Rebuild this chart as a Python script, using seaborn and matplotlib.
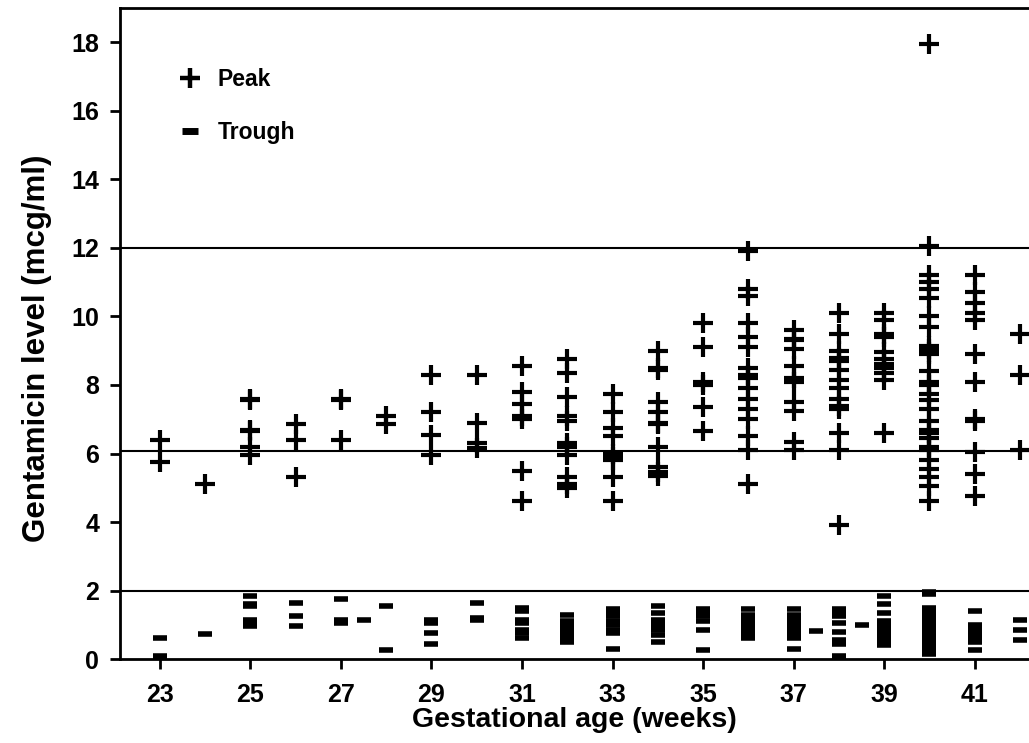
import pandas as pd
import seaborn as sns
import matplotlib.pyplot as plt
from matplotlib.lines import Line2D

# gestational age (weeks) of each column of peak levels
peak_weeks = [23, 24, 25, 26, 27, 28, 29, 30, 31, 32, 33, 34, 35, 36, 37, 38, 39, 40, 41, 42]
peak_levels = [
    [6.4, 5.75],
    [5.1],
    [7.6, 7.55, 6.7, 6.65, 6.2, 5.95],
    [6.85, 6.4, 5.3],
    [7.6, 7.55, 6.4],
    [7.1, 6.85],
    [8.3, 7.2, 6.55, 5.95],
    [8.3, 6.9, 6.3, 6.15],
    [8.55, 7.8, 7.45, 7.1, 7.0, 5.5, 4.6],
    [8.75, 8.35, 7.65, 7.1, 6.95, 6.3, 6.2, 5.95, 5.3, 5.1, 5.0],
    [7.75, 7.2, 6.75, 6.5, 6.0, 5.9, 5.8, 5.3, 4.6],
    [9.0, 8.5, 8.45, 7.5, 7.2, 6.9, 6.85, 6.2, 5.6, 5.45, 5.35],
    [9.8, 9.1, 8.1, 8.0, 7.35, 6.65],
    [11.9, 10.8, 10.6, 9.8, 9.4, 9.1, 8.5, 8.3, 8.2, 7.9, 7.6, 7.3, 7.0, 6.5, 6.1, 5.1],
    [9.6, 9.35, 9.3, 9.05, 8.55, 8.2, 8.1, 7.5, 7.25, 6.35, 6.1],
    [10.1, 9.5, 9.0, 8.8, 8.7, 8.45, 8.15, 7.9, 7.6, 7.4, 7.3, 6.6, 6.1, 3.9],
    [10.1, 9.9, 9.5, 9.4, 8.95, 8.75, 8.6, 8.5, 8.35, 8.15, 6.6],
    [17.95, 12.05, 11.2, 11.0, 10.8, 10.55, 10.0, 9.7, 9.15, 9.05, 8.95, 8.9, 8.4,
     8.1, 8.0, 7.75, 7.55, 7.3, 6.95, 6.7, 6.6, 6.45, 6.2, 6.1, 5.8, 5.55, 5.3, 5.05, 4.6],
    [11.2, 10.7, 10.4, 10.1, 9.9, 8.9, 8.1, 7.0, 6.95, 6.05, 5.4, 4.75],
    [9.5, 8.3, 6.1],
]

trough_weeks = [23, 24, 25, 26, 27, 27.5, 28, 29, 30, 31, 32, 33, 34, 35, 36, 37, 37.5,
                38, 38.5, 39, 40, 41, 42]
trough_levels = [
    [0.6, 0.08, 0.05],
    [0.72],
    [1.85, 1.6, 1.55, 1.15, 1.05, 0.95],
    [1.65, 1.25, 0.95],
    [1.75, 1.15, 1.05],
    [1.13],
    [1.55, 0.25],
    [1.15, 1.05, 0.75, 0.45],
    [1.65, 1.2, 1.15],
    [1.5, 1.4, 1.15, 1.05, 0.85, 0.75, 0.6],
    [1.3, 1.1, 1.0, 0.9, 0.8, 0.7, 0.6, 0.5],
    [1.45, 1.35, 1.25, 1.1, 1.0, 0.85, 0.75, 0.3],
    [1.55, 1.35, 1.15, 1.05, 0.95, 0.85, 0.7, 0.5],
    [1.45, 1.35, 1.25, 1.1, 0.85, 0.25],
    [1.45, 1.3, 1.2, 1.1, 1.0, 0.9, 0.8, 0.7, 0.6],
    [1.45, 1.3, 1.2, 1.1, 1.0, 0.9, 0.8, 0.7, 0.6, 0.3],
    [0.83],
    [1.45, 1.35, 1.25, 1.05, 0.8, 0.55, 0.45, 0.1, 0.05],
    [1.0],
    [1.85, 1.6, 1.35, 1.1, 1.0, 0.9, 0.8, 0.7, 0.6, 0.5, 0.4],
    [1.95, 1.9, 1.5, 1.4, 1.3, 1.2, 1.1, 1.0, 0.95, 0.9, 0.8, 0.7, 0.6, 0.5, 0.4,
     0.3, 0.2, 0.15],
    [1.4, 1.0, 0.9, 0.8, 0.7, 0.6, 0.5, 0.25],
    [1.15, 0.85, 0.55],
]

reference_levels = [2, 6.08, 12]

# long format tables
peaks = pd.DataFrame([(w, v) for w, vals in zip(peak_weeks, peak_levels) for v in vals],
                     columns=["week", "level"])
troughs = pd.DataFrame([(w, v) for w, vals in zip(trough_weeks, trough_levels) for v in vals],
                       columns=["week", "level"])

sns.set_style("ticks")
plt.rcParams["font.family"] = ["Liberation Sans", "DejaVu Sans"]

fig = plt.figure(figsize=(10.29, 7.43), dpi=100)
ax = fig.add_axes([0.1166, 0.113, 0.8834, 0.876])

for lvl in reference_levels:
    ax.axhline(lvl, color="black", linewidth=1.5, zorder=1)

sns.scatterplot(data=peaks, x="week", y="level", marker="+", s=200, linewidth=3,
                color="black", ax=ax, zorder=3)
sns.scatterplot(data=troughs, x="week", y="level", marker="_", s=95, linewidth=4,
                color="black", ax=ax, zorder=3)

ax.set_xlim(22.12, 42.2)
ax.set_ylim(0, 19)
ax.set_xticks(range(23, 42, 2))
ax.set_yticks(range(0, 19, 2))
ax.tick_params(axis="both", direction="out", length=7, width=2, labelsize=18,
               colors="black", pad=8)
ax.tick_params(axis="x", pad=10)
for lab in ax.get_xticklabels() + ax.get_yticklabels():
    lab.set_fontweight("bold")
for side in ["left", "top", "bottom"]:
    ax.spines[side].set_linewidth(2)
    ax.spines[side].set_color("black")
ax.spines["right"].set_visible(False)

ax.set_xlabel("Gestational age (weeks)", fontsize=20.5, fontweight="bold",
              color="black", labelpad=0)
ax.set_ylabel("Gentamicin level (mcg/ml)", fontsize=22.5, fontweight="bold",
              color="black")
ax.yaxis.set_label_coords(-0.075, 0.478)

handles = [
    Line2D([], [], marker="+", linestyle="none", color="black", markersize=14, markeredgewidth=3.2),
    Line2D([], [], marker="_", linestyle="none", color="black", markersize=11, markeredgewidth=5),
]
ax.legend(handles, ["Peak", "Trough"], loc="upper left", bbox_to_anchor=(0.042, 0.94),
          frameon=False, handlelength=1.0, handletextpad=0.7, labelspacing=1.3,
          borderpad=0.4, labelcolor="black", prop={"weight": "bold", "size": 16.5})

fig.savefig("out.png", dpi=100)
